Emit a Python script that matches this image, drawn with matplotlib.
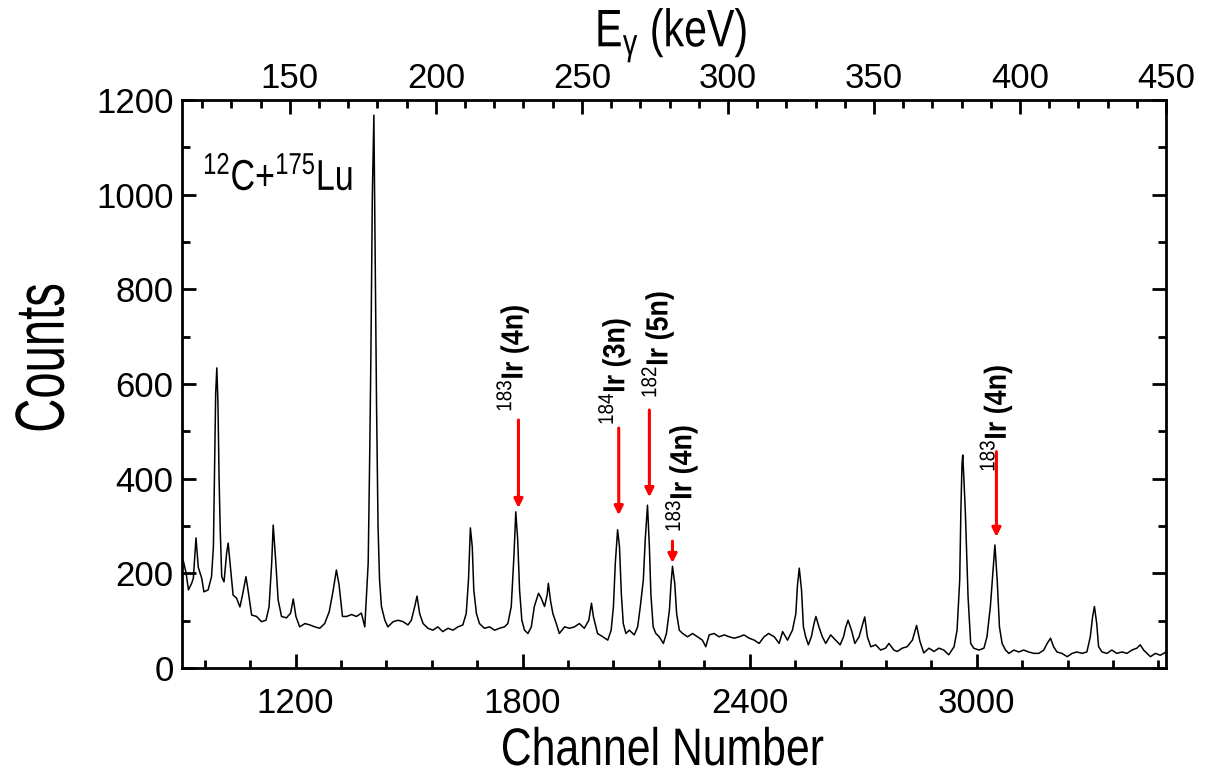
import matplotlib
matplotlib.use('Agg')
import matplotlib.pyplot as plt
from matplotlib.ticker import MultipleLocator
from matplotlib.patheffects import AbstractPathEffect
from matplotlib.transforms import Affine2D

plt.rcParams['font.family'] = ['Liberation Sans', 'DejaVu Sans']
plt.rcParams['mathtext.fontset'] = 'custom'
plt.rcParams['mathtext.rm'] = 'Liberation Sans'
plt.rcParams['mathtext.it'] = 'Liberation Sans:italic'
plt.rcParams['mathtext.bf'] = 'Liberation Sans:bold'

# spectrum (channel, counts)
channel = [900, 903, 911, 917, 926, 930, 937, 943, 952, 958, 969, 978, 983, 986, 989, 992,
           995, 998, 1001, 1005, 1011, 1018, 1022, 1028, 1035, 1044, 1053, 1060, 1069, 1075,
           1084, 1097, 1110, 1122, 1130, 1137, 1141, 1148, 1154, 1163, 1176, 1187, 1194, 1201,
           1211, 1225, 1238, 1251, 1264, 1277, 1289, 1299, 1308, 1315, 1324, 1335, 1348, 1361,
           1374, 1383, 1392, 1396, 1399, 1403, 1407, 1410, 1414, 1418, 1422, 1427, 1436, 1444,
           1458, 1471, 1484, 1497, 1506, 1515, 1521, 1528, 1537, 1550, 1563, 1576, 1589, 1603,
           1616, 1629, 1642, 1651, 1657, 1662, 1667, 1671, 1678, 1686, 1699, 1713, 1726, 1739,
           1752, 1761, 1770, 1777, 1782, 1787, 1792, 1798, 1805, 1814, 1823, 1831, 1842, 1849,
           1858, 1865, 1868, 1874, 1880, 1889, 1897, 1911, 1924, 1937, 1950, 1963, 1975, 1982,
           1987, 1998, 2012, 2025, 2034, 2040, 2045, 2051, 2056, 2061, 2066, 2073, 2082, 2095,
           2104, 2111, 2119, 2124, 2130, 2135, 2139, 2145, 2152, 2161, 2172, 2180, 2188, 2192,
           2196, 2202, 2207, 2214, 2223, 2236, 2249, 2262, 2275, 2284, 2293, 2306, 2319, 2333,
           2346, 2359, 2372, 2385, 2399, 2412, 2425, 2438, 2450, 2465, 2478, 2487, 2500, 2513,
           2522, 2526, 2531, 2537, 2542, 2548, 2555, 2563, 2570, 2575, 2583, 2592, 2601, 2614,
           2627, 2639, 2648, 2654, 2660, 2669, 2678, 2689, 2698, 2704, 2711, 2720, 2733, 2746,
           2759, 2768, 2781, 2790, 2803, 2816, 2830, 2841, 2850, 2860, 2874, 2887, 2900, 2913,
           2926, 2940, 2948, 2955, 2958, 2961, 2963, 2966, 2970, 2977, 2984, 2992, 3006, 3019,
           3027, 3036, 3043, 3048, 3054, 3060, 3067, 3076, 3085, 3098, 3111, 3124, 3137, 3151,
           3164, 3177, 3186, 3195, 3203, 3212, 3225, 3239, 3252, 3265, 3278, 3291, 3300, 3306,
           3311, 3317, 3322, 3331, 3344, 3357, 3370, 3384, 3397, 3410, 3423, 3432, 3441, 3450,
           3459, 3472, 3485, 3494, 3500]
counts = [200, 228, 200, 165, 180, 190, 275, 213, 190, 161, 165, 193, 256, 420, 580, 634,
          560, 400, 292, 193, 182, 243, 264, 213, 154, 148, 129, 155, 193, 162,
          112, 109, 98, 101, 129, 222, 302, 222, 144, 109, 106, 116, 146, 109,
          87, 94, 91, 87, 84, 94, 119, 162, 207, 176, 109, 109, 113, 109,
          116, 87, 222, 450, 650, 1000, 1168, 900, 560, 300, 186, 130, 101, 87,
          98, 101, 98, 91, 101, 130, 152, 115, 94, 84, 80, 87, 77, 84,
          80, 87, 91, 115, 186, 296, 256, 165, 115, 94, 84, 87, 80, 84,
          87, 94, 130, 235, 330, 271, 165, 101, 80, 73, 87, 130, 158, 148,
          130, 155, 179, 141, 115, 94, 73, 87, 84, 87, 94, 84, 101, 137,
          109, 73, 66, 59, 80, 130, 222, 292, 256, 155, 94, 73, 80, 70,
          87, 130, 186, 271, 344, 256, 155, 87, 73, 66, 52, 73, 123, 176,
          215, 179, 115, 80, 73, 66, 73, 66, 59, 45, 70, 73, 66, 70,
          66, 63, 66, 70, 63, 59, 52, 66, 73, 66, 52, 77, 59, 80,
          115, 172, 211, 165, 87, 66, 49, 66, 94, 109, 87, 66, 52, 70,
          59, 49, 66, 87, 101, 80, 52, 66, 91, 108, 66, 45, 49, 38,
          42, 52, 38, 35, 42, 45, 59, 90, 56, 32, 42, 35, 42, 38,
          28, 45, 80, 186, 330, 430, 450, 400, 327, 151, 52, 42, 38, 42,
          66, 130, 207, 260, 186, 87, 52, 38, 31, 38, 34, 38, 34, 31,
          31, 38, 52, 63, 45, 34, 31, 24, 31, 34, 31, 34, 66, 108,
          130, 94, 45, 34, 31, 38, 31, 34, 31, 38, 42, 49, 38, 31,
          24, 31, 27, 31, 34]

# red arrows: channel, tail counts, head counts
arrow_ch = [1789, 2054, 2135, 2196, 3052]
arrow_from = [524, 507, 545, 268, 457]
arrow_to = [338, 323, 361, 222, 277]

# rotated labels: text, channel, bottom counts
label_txt = [r'$^{183}$Ir (4n)', r'$^{184}$Ir (3n)', r'$^{182}$Ir (5n)',
             r'$^{183}$Ir (4n)', r'$^{183}$Ir (4n)']
label_ch = [1773, 2042, 2156, 2219, 3050]
label_y = [541, 513, 570, 287, 414]

energy_ticks = [150, 200, 250, 300, 350, 400, 450]


def ch2e(c):
    return 450 - (3500 - c) * 0.12959


def e2ch(e):
    return 3500 - (450 - e) / 0.12959


class Squeeze(AbstractPathEffect):
    # narrow the glyphs around the text anchor (the original font is condensed)
    def __init__(self, text, f, vertical=False):
        super().__init__()
        self.text = text
        self.f = f
        self.vertical = vertical

    def draw_path(self, renderer, gc, tpath, affine, rgbFace=None):
        x0, y0 = self.text.get_transform().transform(self.text.get_unitless_position())
        if self.vertical:
            sq = Affine2D().translate(0, -y0).scale(1, self.f).translate(0, y0)
        else:
            sq = Affine2D().translate(-x0, 0).scale(self.f, 1).translate(x0, 0)
        renderer.draw_path(gc, tpath, affine + sq, rgbFace)


def squeeze(t, f, vertical=False):
    t.set_path_effects([Squeeze(t, f, vertical)])


fig = plt.figure(figsize=(12.19, 7.75), dpi=100)
ax = fig.add_axes([0.1493, 0.138, 0.8072, 0.733])

ax.plot(channel, counts, color='black', lw=1.1)

for c, y0, y1 in zip(arrow_ch, arrow_from, arrow_to):
    ax.annotate('', xy=(c, y1), xytext=(c, y0),
                arrowprops=dict(arrowstyle='-|>', color='red', lw=2.2,
                                mutation_scale=13, shrinkA=0, shrinkB=0))

for t, c, y in zip(label_txt, label_ch, label_y):
    tx = ax.text(c, y, t, rotation=90, ha='center', va='bottom', fontsize=22,
                 fontweight='bold')
    squeeze(tx, 0.88, vertical=True)

t = ax.text(955, 1010, r'$^{12}$C+$^{175}$Lu', fontsize=31, ha='left', va='baseline')
squeeze(t, 0.79)

ax.set_xlim(900, 3500)
ax.set_ylim(0, 1200)
ax.xaxis.set_minor_locator(MultipleLocator(120))
ax.yaxis.set_major_locator(MultipleLocator(200))
ax.yaxis.set_minor_locator(MultipleLocator(100))
ax.set_xticks([1200, 1800, 2400, 3000])
ax.tick_params(which='both', direction='in', right=True, width=2, labelsize=25)
ax.tick_params(which='major', length=10)
ax.tick_params(which='minor', length=6)
ax.tick_params(axis='x', pad=14)
ax.tick_params(axis='y', pad=6)
for s in ax.spines.values():
    s.set_linewidth(2)

ax.set_xlabel('Channel Number', fontsize=38)
ax.xaxis.set_label_coords(0.488, -0.102)
squeeze(ax.xaxis.label, 0.81)
ax.set_ylabel('Counts', fontsize=50)
ax.yaxis.set_label_coords(-0.106, 0.546)
squeeze(ax.yaxis.label, 0.68, vertical=True)

sec = ax.secondary_xaxis('top', functions=(ch2e, e2ch))
sec.set_xticks(energy_ticks)
sec.xaxis.set_minor_locator(MultipleLocator(10))
sec.tick_params(which='both', direction='in', width=2, labelsize=25)
sec.tick_params(which='major', length=10)
sec.tick_params(which='minor', length=6)
sec.set_xlabel(r'E$_\mathrm{\gamma}$ (keV)', fontsize=38)
sec.xaxis.set_label_coords(0.497, 1.094, transform=ax.transAxes)
squeeze(sec.xaxis.label, 0.78)

fig.savefig('out.png', dpi=100)
